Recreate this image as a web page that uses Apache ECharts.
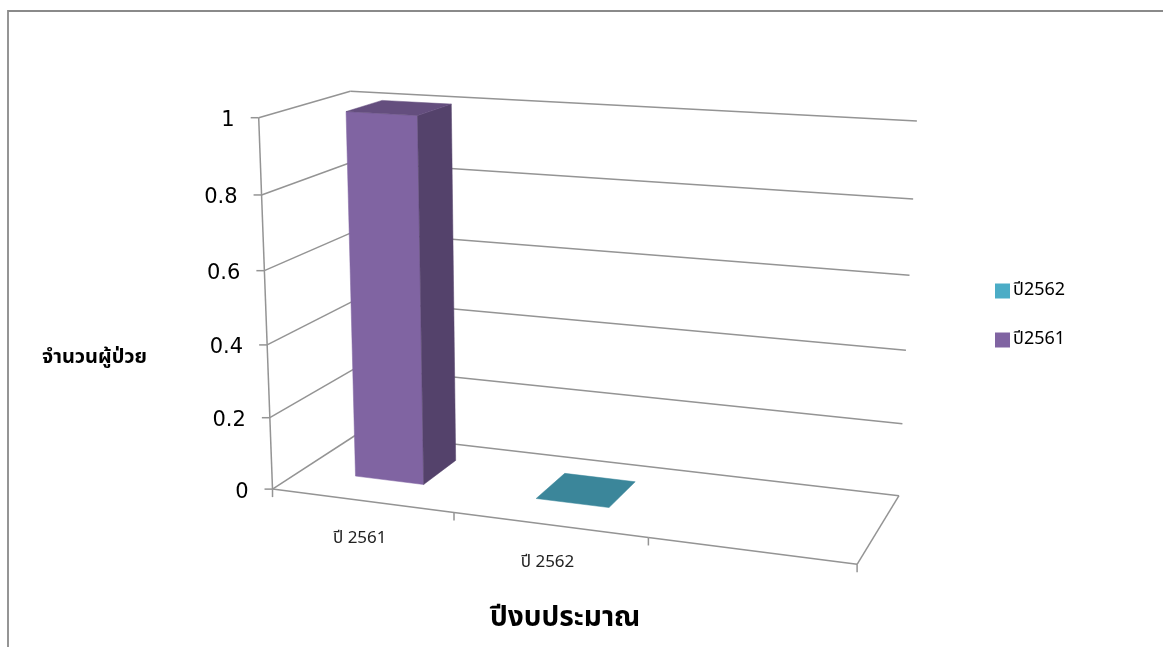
<!DOCTYPE html>
<html><head><meta charset="utf-8">
<script src="https://cdn.jsdelivr.net/npm/echarts@6/dist/echarts.min.js"></script>
<style>html,body{margin:0;padding:0;background:#fff;overflow:hidden}#c{width:1163px;height:647px}</style>
</head><body><div id="c"></div>
<script>
// ---- data ----
const categories = ['ปี 2561', 'ปี 2562', ''];
const series2561 = [1, null, null];
const series2562 = [null, 0, null];
const yTicks = [0, 0.2, 0.4, 0.6, 0.8, 1];
const yTickLabels = ['0', '0.2', '0.4', '0.6', '0.8', '1'];
const legendOrder = ['ปี2562', 'ปี2561'];
const yAxisName = 'จำนวนผู้ป่วย';
const xAxisName = 'ปีงบประมาณ';

// ---- styles ----
const COLORS = { 'ปี2561': '#8064A2', 'ปี2562': '#4BACC6' };
const LINE = '#949494';
const THAI = '"Noto Sans Thai","Noto Sans Thai UI","Loma","Garuda","Tlwg Typo","Kinnari","Norasi","Noto Sans","DejaVu Sans",sans-serif';

// ---- camera calibration: world (X = category units, Y = depth, Z = value fraction) -> screen ----
const calib = [
  [0,0,0, 273.3,488.3], [0,0,1, 258.3,117.5], [0,1,1, 351.2,91], [0,1,0, 358,434],
  [3,1,0, 899,495], [3,1,1, 917,121], [3,0,0, 857,565], [1,0,0, 454,512.3], [2,0,0, 648.3,538],
  [0,0,0.2, 270.2,417.3], [0,0,0.4, 267.2,345], [0,0,0.6, 264.2,271], [0,0,0.8, 261.1,195],
  [3,1,0.2, 903,423], [3,1,0.4, 906,350], [3,1,0.6, 909,276], [3,1,0.8, 913,199]
];
function fitCamera(pts){
  const cx=580, cy=330, s=300, n=11;
  const A=[], b=[];
  pts.forEach(([X,Y,Z,u,v])=>{
    const un=(u-cx)/s, vn=(v-cy)/s;
    A.push([X,Y,Z,1,0,0,0,0,-un*X,-un*Y,-un*Z]); b.push(un);
    A.push([0,0,0,0,X,Y,Z,1,-vn*X,-vn*Y,-vn*Z]); b.push(vn);
  });
  const M=[]; for(let i=0;i<n;i++) M.push(new Array(n+1).fill(0));
  for(let r=0;r<A.length;r++){ for(let i=0;i<n;i++){ for(let j=0;j<n;j++) M[i][j]+=A[r][i]*A[r][j]; M[i][n]+=A[r][i]*b[r]; } }
  for(let c=0;c<n;c++){
    let p=c; for(let r=c+1;r<n;r++) if(Math.abs(M[r][c])>Math.abs(M[p][c])) p=r;
    const t=M[c]; M[c]=M[p]; M[p]=t;
    for(let r=0;r<n;r++){ if(r===c) continue; const f=M[r][c]/M[c][c]; for(let k=c;k<=n;k++) M[r][k]-=f*M[c][k]; }
  }
  const q=M.map((row,i)=>row[n]/row[i]);
  return (X,Y,Z)=>{ const w=q[8]*X+q[9]*Y+q[10]*Z+1; return [(q[0]*X+q[1]*Y+q[2]*Z+q[3])/w*s+cx, (q[4]*X+q[5]*Y+q[6]*Z+q[7])/w*s+cy]; };
}
const P = fitCamera(calib);
const NCAT = categories.length;

function shade(hex, f){
  const n=parseInt(hex.slice(1),16);
  const r=Math.round(((n>>16)&255)*f), g=Math.round(((n>>8)&255)*f), b=Math.round((n&255)*f);
  return 'rgb('+r+','+g+','+b+')';
}
function zFrac(api, idx, v){
  const b=api.coord([idx,0])[1], t=api.coord([idx,v])[1], f=api.coord([idx,1])[1];
  return (b-t)/(b-f);
}
function seg(a,b,w){ return {type:'line', shape:{x1:a[0],y1:a[1],x2:b[0],y2:b[1]}, style:{stroke:LINE,lineWidth:w||1.5}, silent:true}; }
function poly(pts, fill){ return {type:'polygon', shape:{points:pts}, style:{fill:fill, stroke:fill, lineWidth:0.5}}; }

// value axis walls (gridlines, ticks, labels)
function renderWall(params, api){
  const idx=params.dataIndex; const v=api.value(1);
  const z=zFrac(api,0,v);
  const ch=[];
  ch.push(seg(P(0,1,z),P(3,1,z)));
  ch.push(seg(P(0,0,z),P(0,1,z)));
  const e=P(0,0,z);
  ch.push(seg([e[0]-8,e[1]],e));
  ch.push({type:'text', style:{text:yTickLabels[idx], x:e[0]-24, y:e[1]+3, align:'right', verticalAlign:'middle', font:'21px "DejaVu Sans"', fill:'#000'}});
  if(idx===0){
    ch.push(seg(P(0,0,0),P(0,0,1)));
    ch.push(seg(P(3,0,0),P(3,1,0)));
  }
  return {type:'group', children:ch};
}
// category axis (floor front edge, ticks, labels)
function renderCat(params, api){
  const i=api.value(0);
  const ch=[];
  const a=P(i,0,0), b=P(i+1,0,0);
  ch.push(seg(a,b));
  ch.push(seg(a,[a[0],a[1]+8]));
  if(i===NCAT-1) ch.push(seg(b,[b[0],b[1]+8]));
  const c=P(i+0.5,0,0);
  ch.push({type:'text', style:{text:categories[i], x:c[0]-2, y:c[1]+39, align:'center', verticalAlign:'middle', font:'17px '+THAI, fill:'#222'}});
  return {type:'group', children:ch};
}
function renderBar(params, api){
  const idx=api.value(0), v=api.value(1);
  const z=zFrac(api,idx,v);
  const base=COLORS[params.seriesName];
  const X0=idx+0.305, X1=idx+0.69, Y0=0.33, Y1=0.745;
  const ch=[];
  if(z>0.001){
    ch.push(poly([P(X0,Y0,0),P(X1,Y0,0),P(X1,Y0,z),P(X0,Y0,z)], base));
    ch.push(poly([P(X1,Y0,0),P(X1,Y1,0),P(X1,Y1,z),P(X1,Y0,z)], shade(base,0.66)));
  }
  ch.push(poly([P(X0,Y0,z),P(X1,Y0,z),P(X1,Y1,z),P(X0,Y1,z)], shade(base,0.78)));
  return {type:'group', children:ch};
}
function toData(arr){ return arr.map((v,i)=>[i,v]).filter(d=>d[1]!==null); }

const chart = echarts.init(document.getElementById('c'), null, {renderer:'canvas'});
chart.setOption({
  animation:false,
  backgroundColor:'#fff',
  grid:{left:0, top:0, width:100, height:100, show:false},
  xAxis:{type:'category', data:categories, show:false},
  yAxis:{type:'value', min:0, max:1, interval:0.2, show:false},
  legend:{
    data:legendOrder, orient:'vertical', left:995, top:282, padding:0, itemWidth:15, itemHeight:15, itemGap:31,
    icon:'rect', textStyle:{fontSize:18, fontFamily:THAI, color:'#000', padding:[0,0,0,-2]}, selectedMode:false
  },
  graphic:[
    {type:'rect', shape:{x:8, y:11, width:1200, height:700}, style:{fill:'none', stroke:'#8a8a8a', lineWidth:1.8}, silent:true, z:-10},
    {type:'text', style:{text:yAxisName, x:42, y:359, verticalAlign:'middle', font:'bold 20px '+THAI, fill:'#000'}},
    {type:'text', style:{text:xAxisName, x:490, y:620, verticalAlign:'middle', font:'bold 28px '+THAI, fill:'#000'}}
  ],
  series:[
    {type:'custom', name:'_wall', data:yTicks.map(v=>[0,v]), renderItem:renderWall, silent:true, z:1},
    {type:'custom', name:'_cat', data:categories.map((c,i)=>[i,0]), renderItem:renderCat, silent:true, z:1},
    {type:'custom', name:'ปี2561', data:toData(series2561), renderItem:renderBar, itemStyle:{color:COLORS['ปี2561']}, z:2},
    {type:'custom', name:'ปี2562', data:toData(series2562), renderItem:renderBar, itemStyle:{color:COLORS['ปี2562']}, z:2}
  ]
});
</script></body></html>
